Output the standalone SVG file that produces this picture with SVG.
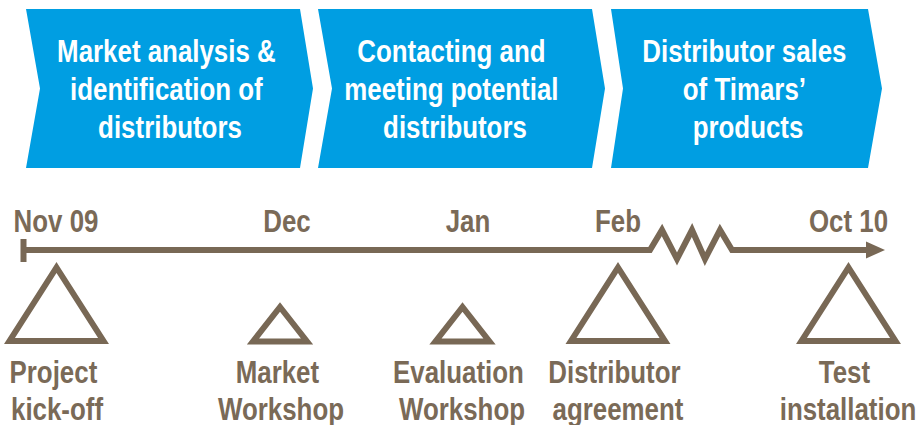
<svg xmlns="http://www.w3.org/2000/svg" width="918" height="425" viewBox="0 0 918 425">
  <style>
    .phase { fill: #009EE2; }
    .phase-text { font-family: "Liberation Sans", Arial, sans-serif; font-weight: bold; font-size: 31px; fill: #FFFFFF; text-anchor: middle; }
    .label { font-family: "Liberation Sans", Arial, sans-serif; font-weight: bold; font-size: 31px; fill: #7A6A57; text-anchor: middle; }
    .axis { fill: none; stroke: #786855; stroke-width: 6; stroke-linejoin: miter; }
    .milestone { fill: none; stroke: #786855; stroke-width: 6; stroke-linejoin: miter; stroke-miterlimit: 10; }
    .tip { fill: #786855; }
  </style>

  <rect width="918" height="425" fill="#FFFFFF"/>

  <!-- Phase chevrons -->
  <g id="phase-market-analysis">
    <polygon class="phase" points="26,9 300,9 313,88.5 300,168 26,168 40,88.5"/>
    <text class="phase-text" transform="translate(170 62) scale(0.835 1)">
      <tspan x="0" y="0">Market analysis &amp;</tspan>
      <tspan x="0" y="38">identification of</tspan>
      <tspan x="0" y="76">distributors</tspan>
    </text>
  </g>
  <g id="phase-contacting">
    <polygon class="phase" points="318,9 592,9 605,88.5 592,168 318,168 332,88.5"/>
    <text class="phase-text" transform="translate(455 62) scale(0.835 1)">
      <tspan x="0" y="0">Contacting and</tspan>
      <tspan x="0" y="38">meeting potential</tspan>
      <tspan x="0" y="76">distributors</tspan>
    </text>
  </g>
  <g id="phase-distributor-sales">
    <polygon class="phase" points="611,9 868,9 882,88.5 868,168 611,168 623,88.5"/>
    <text class="phase-text" transform="translate(748 62) scale(0.835 1)">
      <tspan x="0" y="0">Distributor sales</tspan>
      <tspan x="0" y="38">of Timars’</tspan>
      <tspan x="0" y="76">products</tspan>
    </text>
  </g>

  <!-- Time axis with break -->
  <g id="connectors">
    <rect class="tip" x="20.5" y="239" width="6" height="23"/>
    <path class="axis" d="M23.5,250 H650 L662,230 L677,259 L692,230 L705,259 L720,230 L732,250 H870"/>
    <polygon class="tip" points="866,241.5 885,250 866,258.5"/>
  </g>

  <!-- Month labels -->
  <g id="months">
    <text class="label" transform="translate(56 232) scale(0.835 1)">Nov 09</text>
    <text class="label" transform="translate(287 232) scale(0.835 1)">Dec</text>
    <text class="label" transform="translate(468 232) scale(0.835 1)">Jan</text>
    <text class="label" transform="translate(618 232) scale(0.835 1)">Feb</text>
    <text class="label" transform="translate(848.5 232) scale(0.835 1)">Oct 10</text>
  </g>

  <!-- Milestones -->
  <g id="milestone-kickoff">
    <polygon class="milestone" points="56.5,267.5 103.5,341 9.5,341"/>
    <text class="label" transform="translate(57 383) scale(0.835 1)">
      <tspan x="0" y="0">Project</tspan>
      <tspan x="0" y="37">kick-off</tspan>
    </text>
  </g>
  <g id="milestone-market-workshop">
    <polygon class="milestone" points="280,307 307,341.5 253,341.5"/>
    <text class="label" transform="translate(281 383) scale(0.835 1)">
      <tspan x="0" y="0">Market</tspan>
      <tspan x="0" y="37">Workshop</tspan>
    </text>
  </g>
  <g id="milestone-evaluation-workshop">
    <polygon class="milestone" points="462.5,307 489.5,341.5 435.5,341.5"/>
    <text class="label" transform="translate(462 383) scale(0.835 1)">
      <tspan x="0" y="0">Evaluation</tspan>
      <tspan x="0" y="37">Workshop</tspan>
    </text>
  </g>
  <g id="milestone-distributor-agreement">
    <polygon class="milestone" points="618,267.5 665,341 571,341"/>
    <text class="label" transform="translate(618 383) scale(0.835 1)">
      <tspan x="0" y="0">Distributor</tspan>
      <tspan x="0" y="37">agreement</tspan>
    </text>
  </g>
  <g id="milestone-test-installation">
    <polygon class="milestone" points="848.5,267.5 895.5,341 801.5,341"/>
    <text class="label" transform="translate(848 383) scale(0.835 1)">
      <tspan x="0" y="0">Test</tspan>
      <tspan x="0" y="37">installation</tspan>
    </text>
  </g>
</svg>
